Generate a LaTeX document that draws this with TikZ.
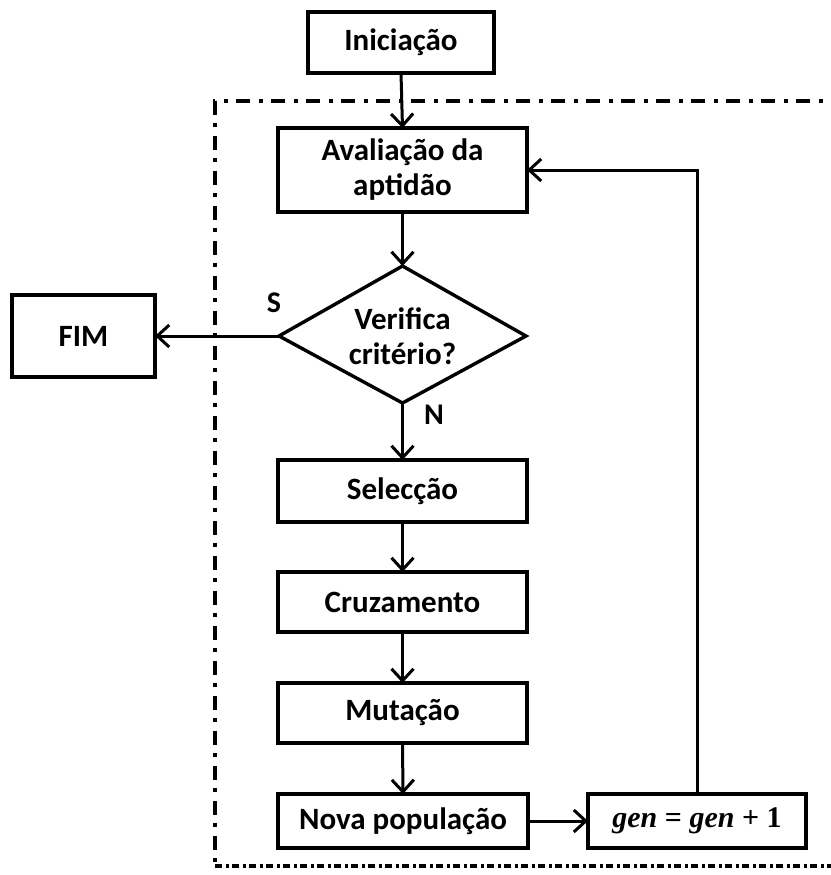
\documentclass[tikz,border=0pt]{standalone}
\usepackage{fontspec}
\setmainfont{Carlito}
\newfontfamily\genfont{Liberation Serif}
\usetikzlibrary{arrows.meta}

\begin{document}
\begin{tikzpicture}[x=1pt,y=-1pt,
  box/.style={draw,line width=3.4pt,rectangle,inner sep=0pt,outer sep=0pt,
    align=center,font=\bfseries\fontsize{31}{35}\selectfont},
  lbl/.style={inner sep=0pt,font=\bfseries\fontsize{30}{34}\selectfont},
  arr/.style={line width=3pt,-{Straight Barb[length=12pt,width=22pt]}},
  frametop/.style={line width=3.2pt,dash pattern=on 14pt off 8pt on 4pt off 9pt},
  framebot/.style={line width=3.2pt,dash pattern=on 7pt off 4pt on 3pt off 3pt},
  counterfont/.style={font=\genfont\bfseries\fontsize{30}{32}\selectfont},
]
\useasboundingbox (0,0) rectangle (830,875);

% enclosing dash-dot frame (open to the right)
\draw[frametop] (845,101) -- (215,101) -- (215,866);
\draw[framebot] (215,866) -- (845,866);

% process boxes
\node[box,minimum width=186pt,minimum height=61pt] (ini)  at (401,42.5) {Iniciação};
\node[box,minimum width=249pt,minimum height=84pt] (aval) at (402.5,170) {Avaliação da\\aptidão};
\node[box,minimum width=143pt,minimum height=82pt] (fim)  at (83.5,336) {FIM};
\node[box,minimum width=249pt,minimum height=62pt] (sel)  at (402.5,491) {Selecção};
\node[box,minimum width=249pt,minimum height=60pt] (cruz) at (402.5,602) {Cruzamento};
\node[box,minimum width=249pt,minimum height=60pt] (mut)  at (402.5,713) {Mutação};
\node[box,minimum width=250pt,minimum height=54pt] (nova) at (403,821) {Nova população};
\node[box,minimum width=218pt,minimum height=54pt,counterfont] (gen) at (697,821)
  {\itshape gen\/\upshape{} = \itshape gen\/\upshape{} + 1};

% decision diamond
\coordinate (dT) at (402.5,266);
\coordinate (dR) at (526,336);
\coordinate (dB) at (402.5,403);
\coordinate (dL) at (279,336);
\draw[line width=3.4pt,line join=miter] (dT) -- (dR) -- (dB) -- (dL) -- cycle;
\node[align=center,inner sep=0pt,font=\bfseries\fontsize{31}{35}\selectfont] (crit) at (402.5,336) {Verifica\\critério?};

% branch labels
\node[lbl] (lblS) at (274,303) {S};
\node[lbl] (lblN) at (434,415) {N};

% connectors
\draw[arr] (ini.south) -- (aval.north);
\draw[arr] (aval.south) -- (dT);
\draw[arr] (dL) -- (fim.east);
\draw[arr] (dB) -- (sel.north);
\draw[arr] (sel.south) -- (cruz.north);
\draw[arr] (cruz.south) -- (mut.north);
\draw[arr] (mut.south) -- (nova.north);
\draw[arr] (nova.east) -- (gen.west);
\draw[arr] (gen.north) |- (aval.east);
\end{tikzpicture}
\end{document}
